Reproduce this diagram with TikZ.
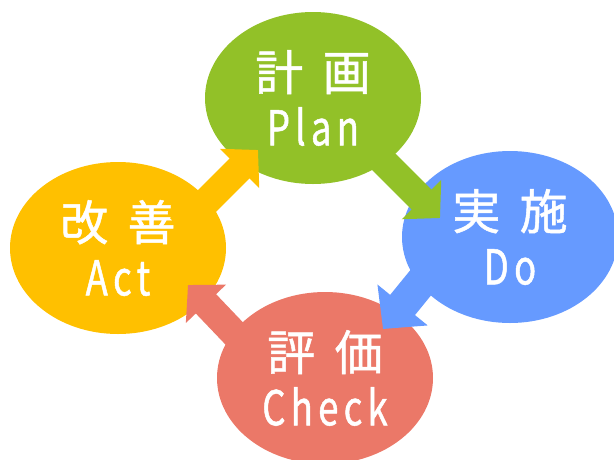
\documentclass[tikz,border=0pt]{standalone}
\usepackage{fontspec}
\usepackage{tikz}
\usetikzlibrary{shapes}
\usetikzlibrary{arrows.meta}
\usetikzlibrary{positioning}
\newfontfamily\jpfont[LetterSpace=18,FakeBold=1]{Noto Sans CJK JP}
\newfontfamily\enfont[FakeStretch=0.76,LetterSpace=11,FakeBold=1]{Noto Sans CJK JP}
\definecolor{plangreen}{RGB}{146,193,40}
\definecolor{doblue}{RGB}{102,154,255}
\definecolor{checkred}{RGB}{235,120,104}
\definecolor{actorange}{RGB}{255,192,0}
\tikzstyle{phase}=[ellipse,inner sep=0mm,minimum width=216pt,minimum height=172pt,text=white,align=center,font=\jpfont\fontsize{48}{55}\selectfont]
\tikzstyle{flow}=[line width=28pt,-{Triangle[length=26pt,width=54pt]}]
\tikzstyle{bigflow}=[line width=32pt,-{Triangle[length=31pt,width=63pt]}]

\begin{document}
\begin{tikzpicture}[x=1pt,y=-1pt]
          \useasboundingbox (0,0) rectangle (614,459);
          \clip (0,0) rectangle (614,459);
          \node[phase,fill=plangreen] at (313,98) (plan) {計 画\\{\enfont Plan}};
          \node[phase,fill=doblue] at (510,237) (do) {実 施\\{\enfont Do}};
          \node[phase,fill=checkred] at (325,378) (check) {評 価\\{\enfont Check}};
          \node[phase,fill=actorange] at (118,248) (act) {改 善\\{\enfont Act}};
          \coordinate (actout) at (180,228);
          \coordinate (planin) at (258,150);
          \coordinate (planout) at (370,148);
          \coordinate (doin) at (440,218);
          \coordinate (doout) at (440,259);
          \coordinate (checkin) at (383,329);
          \coordinate (checkout) at (250,350);
          \coordinate (actin) at (188,285);
          \draw[flow,actorange] (actout)--(planin);
          \draw[flow,plangreen] (planout)--(doin);
          \draw[bigflow,doblue] (doout)--(checkin);
          \draw[flow,checkred] (checkout)--(actin);
        \end{tikzpicture}
\end{document}
